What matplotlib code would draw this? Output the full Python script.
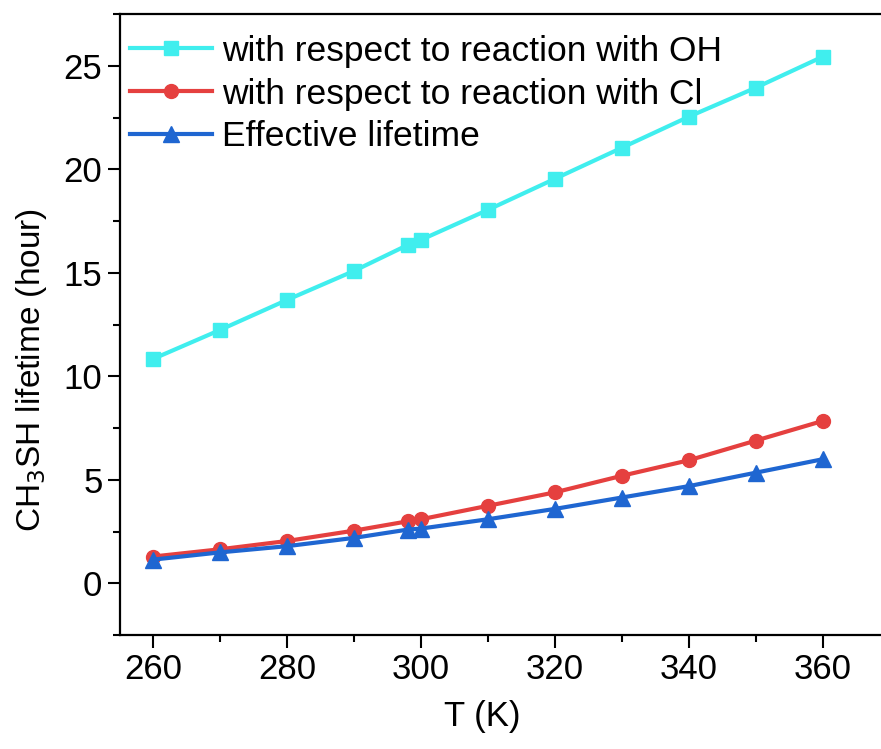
import matplotlib.pyplot as plt
from matplotlib.ticker import MultipleLocator

plt.rcParams['font.family'] = ['Liberation Sans', 'DejaVu Sans']

# temperature (K) and lifetimes (hour)
T = [260, 270, 280, 290, 298, 300, 310, 320, 330, 340, 350, 360]
tau_oh = [10.85, 12.25, 13.7, 15.1, 16.35, 16.6, 18.05, 19.55, 21.05, 22.55, 23.95, 25.45]
tau_cl = [1.3, 1.65, 2.05, 2.55, 3.0, 3.1, 3.75, 4.4, 5.2, 5.95, 6.9, 7.85]
tau_eff = [1.15, 1.5, 1.8, 2.2, 2.6, 2.65, 3.1, 3.6, 4.15, 4.7, 5.35, 6.0]

labels = ['with respect to reaction with OH',
          'with respect to reaction with Cl',
          'Effective lifetime']

fig = plt.figure(figsize=(8.81, 7.49), dpi=100)
ax = fig.add_axes([0.136, 0.152, 0.864, 0.829])

ax.plot(T, tau_oh, color='#40EEEE', lw=3, marker='s', ms=10, label=labels[0])
ax.plot(T, tau_cl, color='#E5403F', lw=3, marker='o', ms=10, label=labels[1])
ax.plot(T, tau_eff, color='#1F66D1', lw=3, marker='^', ms=11, label=labels[2])

ax.set_xlim(255, 368.7)
ax.set_ylim(-2.5, 27.5)
ax.xaxis.set_major_locator(MultipleLocator(20))
ax.xaxis.set_minor_locator(MultipleLocator(10))
ax.yaxis.set_major_locator(MultipleLocator(5))
ax.yaxis.set_minor_locator(MultipleLocator(2.5))
ax.tick_params(which='major', direction='out', length=9, width=1.5, labelsize=25)
ax.tick_params(which='minor', direction='out', length=5, width=1.5)
ax.spines['right'].set_visible(False)
for s in ['left', 'top', 'bottom']:
    ax.spines[s].set_linewidth(1.6)

ax.set_xlabel('T (K)', fontsize=25)
ax.xaxis.set_label_coords(0.476, -0.105)
ax.set_ylabel('CH$_3$SH lifetime (hour)', fontsize=24)
ax.yaxis.set_label_coords(-0.093, 0.427)

ax.legend(loc='upper left', frameon=False, fontsize=25.5, handlelength=2.3,
          handletextpad=0.3, labelspacing=0.28, borderaxespad=0.0,
          bbox_to_anchor=(-0.005, 0.99))

fig.savefig('out.png', dpi=100)
